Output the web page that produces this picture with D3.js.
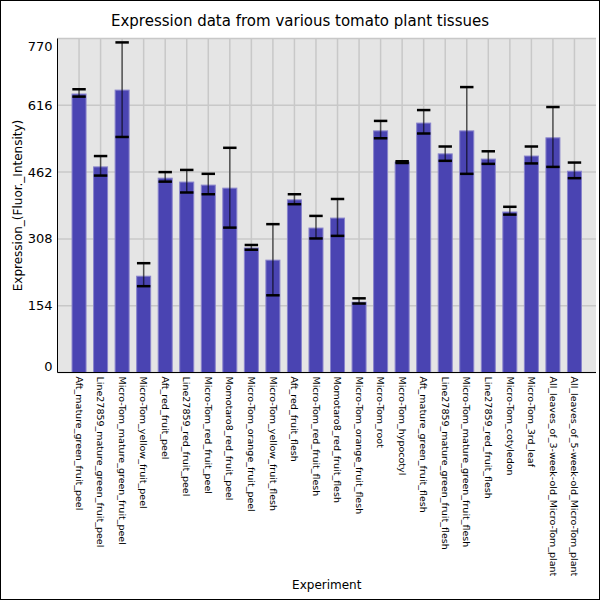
<!DOCTYPE html>
<html>
<head>
<meta charset="utf-8">
<script src="https://cdn.jsdelivr.net/npm/d3@7"></script>
<style>
  body { margin: 0; background: #fff; }
  svg { display: block; font-family: 'DejaVu Sans', sans-serif; }
</style>
</head>
<body>
<div id="chart"></div>
<script>
// Tomato tissue expression values
let experiments = [
  'Aft_mature_green_fruit_peel', 'Line27859_mature_green_fruit_peel', 'Micro-Tom_mature_green_fruit_peel',
  'Micro-Tom_yellow_fruit_peel', 'Aft_red_fruit_peel', 'Line27859_red_fruit_peel', 'Micro-Tom_red_fruit_peel',
  'Momotaro8_red_fruit_peel', 'Micro-Tom_orange_fruit_peel', 'Micro-Tom_yellow_fruit_flesh', 'Aft_red_fruit_flesh',
  'Micro-Tom_red_fruit_flesh', 'Momotaro8_red_fruit_flesh', 'Micro-Tom_orange_fruit_flesh', 'Micro-Tom_root',
  'Micro-Tom_hypocotyl', 'Aft_mature_green_fruit_flesh', 'Line27859_mature_green_fruit_flesh',
  'Micro-Tom_mature_green_fruit_flesh', 'Line27859_red_fruit_flesh', 'Micro-Tom_cotyledon', 'Micro-Tom_3rd_leaf',
  'All_leaves_of_3-week-old_Micro-Tom_plant', 'All_leaves_of_5-week-old_Micro-Tom_plant'
];
let expression = [642, 474, 651, 222, 448, 439, 432, 425, 287, 259, 398, 333,
  356, 162, 557, 485, 575, 504, 557, 492, 370, 499, 541, 464];
let errLow = [636, 454, 543, 199, 440, 415, 411, 334, 283, 178, 388, 309,
  315, 159, 540, 483, 551, 488, 458, 481, 364, 482, 474, 448];
let errHigh = [653, 499, 761, 252, 462, 467, 458, 518, 294, 342, 411, 361,
  400, 171, 580, 487, 605, 521, 658, 510, 382, 521, 612, 484];
let yTicks = [0, 154, 308, 462, 616, 770];

let svgWidth = 600;
let svgHeight = 600;
let margin = { top: 38.5, right: 4, bottom: 227.5, left: 57.5 };
let width = svgWidth - margin.left - margin.right;
let height = svgHeight - margin.top - margin.bottom;

let svg = d3.select('#chart')
  .append('svg')
  .attr('width', svgWidth)
  .attr('height', svgHeight);

// outer frame
svg.append('rect')
  .attr('x', 0.5).attr('y', 0.5)
  .attr('width', svgWidth - 1).attr('height', svgHeight - 1)
  .attr('fill', '#fff')
  .attr('stroke', '#000');

let chartGroup = svg.append('g')
  .attr('transform', `translate(${margin.left}, ${margin.top})`);

// Scales: one slot per experiment, with a free slot either side
let xScale = d3.scaleLinear()
  .domain([0, experiments.length + 1])
  .range([0, width]);

let yScale = d3.scaleLinear()
  .domain([0, 770])
  .range([height, 0]);

let step = xScale(1) - xScale(0);
let barWidth = step * 0.65;

// plot background
chartGroup.append('rect')
  .attr('width', width)
  .attr('height', height)
  .attr('fill', '#e5e5e5');

// gridlines
chartGroup.append('g')
  .selectAll('line')
  .data(yTicks)
  .enter()
  .append('line')
  .attr('x1', 0).attr('x2', width)
  .attr('y1', d => yScale(d)).attr('y2', d => yScale(d))
  .attr('stroke', '#c8c8c8')
  .attr('stroke-width', 1.5);

chartGroup.append('g')
  .selectAll('line')
  .data(experiments)
  .enter()
  .append('line')
  .attr('x1', (d, i) => xScale(i + 1)).attr('x2', (d, i) => xScale(i + 1))
  .attr('y1', 0).attr('y2', height)
  .attr('stroke', '#c8c8c8')
  .attr('stroke-width', 1.5);

// bars
chartGroup.selectAll('.bar')
  .data(expression)
  .enter()
  .append('rect')
  .attr('class', 'bar')
  .attr('x', (d, i) => xScale(i + 1) - barWidth / 2)
  .attr('y', d => yScale(d))
  .attr('width', barWidth)
  .attr('height', d => height - yScale(d))
  .attr('fill', '#4a44b2')
  .attr('stroke', '#8984cb')
  .attr('stroke-width', 1);

// error bars
let errGroup = chartGroup.append('g');
let capHalf = barWidth * 0.48;

errGroup.selectAll('.errLine')
  .data(expression)
  .enter()
  .append('line')
  .attr('class', 'errLine')
  .attr('x1', (d, i) => xScale(i + 1)).attr('x2', (d, i) => xScale(i + 1))
  .attr('y1', (d, i) => yScale(errLow[i])).attr('y2', (d, i) => yScale(errHigh[i]))
  .attr('stroke', '#000')
  .attr('stroke-opacity', 0.6)
  .attr('stroke-width', 1.5);

[errLow, errHigh].forEach(ends => {
  errGroup.append('g')
    .selectAll('line')
    .data(ends)
    .enter()
    .append('line')
    .attr('x1', (d, i) => xScale(i + 1) - capHalf).attr('x2', (d, i) => xScale(i + 1) + capHalf)
    .attr('y1', d => yScale(d)).attr('y2', d => yScale(d))
    .attr('stroke', '#000')
    .attr('stroke-width', 2.5);
});

// axes lines
chartGroup.append('line')
  .attr('x1', 0).attr('x2', 0)
  .attr('y1', 0).attr('y2', height)
  .attr('stroke', '#000');

chartGroup.append('line')
  .attr('x1', 0).attr('x2', width)
  .attr('y1', height).attr('y2', height)
  .attr('stroke', '#000');

// y tick labels, kept inside the plot at both ends
chartGroup.append('g')
  .selectAll('text')
  .data(yTicks)
  .enter()
  .append('text')
  .attr('x', -5)
  .attr('y', d => Math.min(height - 6, Math.max(8, yScale(d))))
  .attr('dy', '0.35em')
  .attr('text-anchor', 'end')
  .attr('font-size', '13px')
  .attr('fill', '#000')
  .text(d => d);

// x tick labels, rotated
chartGroup.append('g')
  .selectAll('text')
  .data(experiments)
  .enter()
  .append('text')
  .attr('transform', (d, i) => `translate(${xScale(i + 1)}, ${height + 4}) rotate(90)`)
  .attr('dy', '0.35em')
  .attr('font-size', '9.5px')
  .attr('fill', '#000')
  .text(d => d);

// titles
svg.append('text')
  .attr('x', 300)
  .attr('y', 26)
  .attr('text-anchor', 'middle')
  .attr('font-size', '15px')
  .text('Expression data from various tomato plant tissues');

svg.append('text')
  .attr('x', margin.left + width / 2)
  .attr('y', 589)
  .attr('text-anchor', 'middle')
  .attr('font-size', '12px')
  .text('Experiment');

svg.append('text')
  .attr('transform', `translate(22, ${margin.top + height / 2}) rotate(-90)`)
  .attr('text-anchor', 'middle')
  .attr('font-size', '12px')
  .text('Expression_(Fluor._Intensity)');
</script>
</body>
</html>
